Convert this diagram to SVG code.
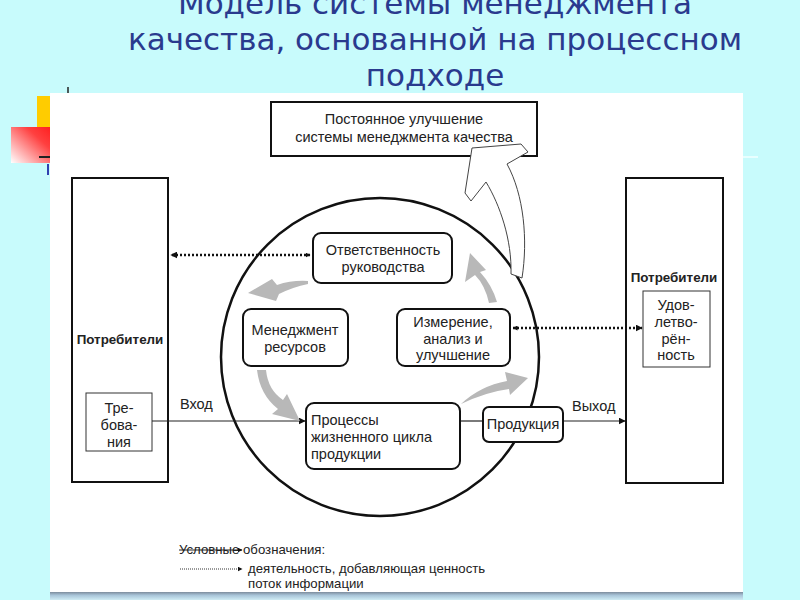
<svg xmlns="http://www.w3.org/2000/svg" width="800" height="600" viewBox="0 0 800 600">
<defs>
<linearGradient id="redg" x1="0" y1="1" x2="1" y2="0">
<stop offset="0" stop-color="#ffffff"/>
<stop offset="0.7" stop-color="#ff4040"/>
<stop offset="1" stop-color="#ff2020"/>
</linearGradient>
<linearGradient id="barg" x1="0" y1="0" x2="0" y2="1">
<stop offset="0" stop-color="#7d8c9c"/>
<stop offset="0.4" stop-color="#a8c4d8"/>
<stop offset="1" stop-color="#d0ecf4"/>
</linearGradient>
<marker id="ah" viewBox="0 0 10 10" refX="9" refY="5" markerWidth="7" markerHeight="7" markerUnits="userSpaceOnUse" orient="auto-start-reverse">
<path d="M0,0 L10,5 L0,10 Z" fill="#111"/>
</marker>
<marker id="ahs" viewBox="0 0 10 10" refX="9" refY="5" markerWidth="5" markerHeight="5" markerUnits="userSpaceOnUse" orient="auto-start-reverse">
<path d="M0,0 L10,5 L0,10 Z" fill="#111"/>
</marker>
<style>
.title{font-family:"DejaVu Sans",sans-serif;font-size:31px;fill:#2a3a8e;text-anchor:middle}
.t{font-family:"Liberation Sans",Arial,sans-serif;font-size:14.5px;fill:#222}
.c{text-anchor:middle}
.b{font-weight:bold;font-size:13.4px}
.sq{fill:#fff;stroke:#111;stroke-width:2}
.sq1{fill:#fff;stroke:#333;stroke-width:1}
.rr{fill:#fff;stroke:#111;stroke-width:2}
.solid{fill:none;stroke:#222;stroke-width:1.2}
.dot{fill:none;stroke:#111;stroke-width:2.5;stroke-dasharray:2 2}
.gray{fill:#b8b8b8}
.lg{font-family:"Liberation Sans",Arial,sans-serif;font-size:13.2px;fill:#222}
</style>
</defs>
<rect x="0" y="0" width="800" height="600" fill="#c8fbfc"/>
<text class="title" x="435" y="14">Модель системы менеджмента</text>
<text class="title" x="435" y="50">качества, основанной на процессном</text>
<text class="title" x="435" y="86">подходе</text>
<rect x="37" y="96" width="13" height="31" fill="#ffcc00"/>
<rect x="11" y="127" width="39" height="36" fill="url(#redg)"/>
<line x1="68" y1="87" x2="68" y2="94" stroke="#222" stroke-width="1.5"/>
<line x1="39" y1="157" x2="50" y2="157" stroke="#222" stroke-width="2"/>
<line x1="48" y1="164" x2="48" y2="175" stroke="#3040b0" stroke-width="2"/>
<line x1="743" y1="157" x2="758" y2="157" stroke="#e8ffff" stroke-width="2"/>
<rect x="50" y="93" width="693" height="500" fill="#ffffff"/>
<rect x="50" y="592" width="693" height="8" fill="url(#barg)"/>

<g id="circle"><circle cx="380" cy="357" r="159" fill="none" stroke="#111" stroke-width="2.5"/></g>

<g id="top-box">
<rect class="sq" x="271" y="102" width="266" height="54"/>
<text class="t c" x="404" y="124">Постоянное улучшение</text>
<text class="t c" x="404" y="142">системы менеджмента качества</text>
</g>

<g id="left-customers">
<rect class="sq" x="72" y="178" width="96" height="304"/>
<text class="t c b" x="120" y="344">Потребители</text>
</g>
<g id="requirements">
<rect class="sq1" x="86" y="393" width="66" height="58"/>
<text class="t c" x="119" y="413">Тре-</text>
<text class="t c" x="119" y="430">бова-</text>
<text class="t c" x="119" y="447">ния</text>
</g>

<g id="right-customers">
<rect class="sq" x="626" y="178" width="97" height="305"/>
<text class="t c b" x="674" y="282">Потребители</text>
</g>
<g id="satisfaction">
<rect class="sq1" x="643" y="291" width="67" height="76"/>
<text class="t c" x="676" y="310">Удов-</text>
<text class="t c" x="676" y="327">летво-</text>
<text class="t c" x="676" y="344">рён-</text>
<text class="t c" x="676" y="360">ность</text>
</g>

<g id="connectors">
<line class="dot" x1="310" y1="255" x2="171" y2="255" marker-end="url(#ah)" marker-start="url(#ahs)"/>
<line class="dot" x1="513" y1="328" x2="642" y2="328" marker-end="url(#ah)" marker-start="url(#ahs)"/>
<line class="solid" x1="152" y1="421" x2="305" y2="421" marker-end="url(#ah)"/>
<line class="solid" x1="460" y1="421" x2="483" y2="421"/>
<line class="solid" x1="563" y1="421" x2="625" y2="421" marker-end="url(#ah)"/>
<path class="gray" d="M308,281 Q292,280 277,285 L272,279 L248,293 L276,301 L279,294 Q293,287 308,284 Z"/>
<path class="gray" d="M257,370 L266,370 Q268,390 283,400 L287,394 L300,421 L272,414 L278,409 Q260,395 257,370 Z"/>
<path class="gray" d="M461,404 Q480,386 507,381 L505,372 L528,378 L510,395 L509,389 Q486,392 461,404 Z"/>
<path class="gray" d="M497,302 L489,303 Q485,285 475,275 L465,282 L470,253 L486,270 L480,272 Q492,285 497,302 Z"/>
<path d="M472,148 L465,193 L471,201 L486,182 C500,205 512,240 511,274 L522,278 C528,240 524,195 507,164 L528,152 L521,144 Z" fill="#fff" stroke="#444" stroke-width="1"/>
</g>
<text class="t" x="180" y="409">Вход</text>
<text class="t" x="572" y="411">Выход</text>

<g id="responsibility">
<rect class="rr" x="313" y="233" width="139" height="50" rx="8"/>
<text class="t c" x="383" y="255">Ответственность</text>
<text class="t c" x="383" y="272">руководства</text>
</g>
<g id="resources">
<rect class="rr" x="243" y="309" width="105" height="57" rx="8"/>
<text class="t c" x="295" y="335">Менеджмент</text>
<text class="t c" x="295" y="352">ресурсов</text>
</g>
<g id="measurement">
<rect class="rr" x="397" y="309" width="113" height="57" rx="8"/>
<text class="t c" x="453" y="327">Измерение,</text>
<text class="t c" x="453" y="344">анализ и</text>
<text class="t c" x="453" y="360">улучшение</text>
</g>
<g id="processes">
<rect class="rr" x="306" y="403" width="154" height="66" rx="8"/>
<text class="t" x="311" y="425">Процессы</text>
<text class="t" x="311" y="442">жизненного цикла</text>
<text class="t" x="311" y="459">продукции</text>
</g>
<g id="product">
<rect class="rr" x="483" y="407" width="80" height="35" rx="6"/>
<text class="t c" x="523" y="429">Продукция</text>
</g>

<g id="legend">
<text class="lg" x="179" y="554">Условные обозначения:</text>
<line x1="179" y1="550" x2="242" y2="550" stroke="#222" stroke-width="1" marker-end="url(#ahs)"/>
<line x1="180" y1="569" x2="242" y2="569" stroke="#333" stroke-width="1" stroke-dasharray="1 1" marker-end="url(#ahs)"/>
<text class="lg" x="248" y="573">деятельность, добавляющая ценность</text>
<text class="lg" x="248" y="588">поток информации</text>
</g>
</svg>
